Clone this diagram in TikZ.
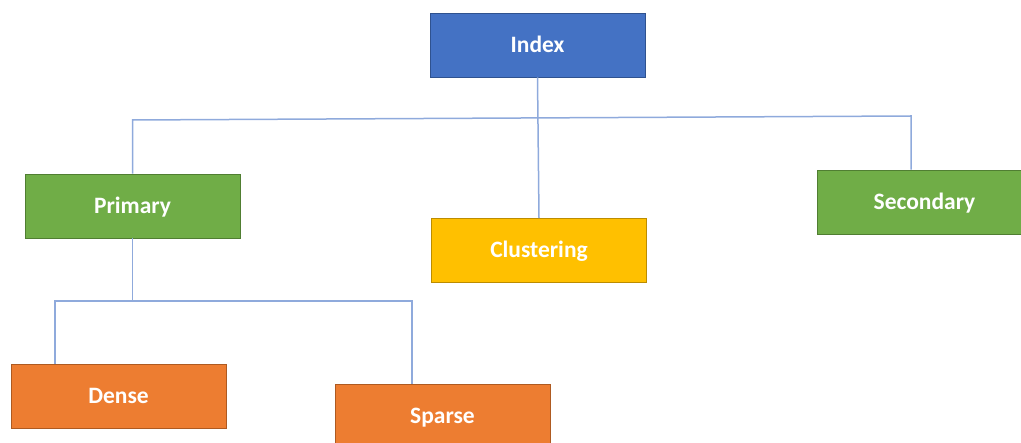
\documentclass[tikz,border=0pt]{standalone}
\usepackage{fontspec}
\setmainfont{Carlito}
\definecolor{cblue}{HTML}{4472C4}
\definecolor{cblueb}{HTML}{2F528F}
\definecolor{cgreen}{HTML}{70AD47}
\definecolor{cgreenb}{HTML}{507E32}
\definecolor{cyellow}{HTML}{FFC000}
\definecolor{cyellowb}{HTML}{BC8C00}
\definecolor{corange}{HTML}{ED7D31}
\definecolor{corangeb}{HTML}{AE5A21}
\definecolor{cline}{HTML}{8FAADC}
\tikzset{
  box/.style={rectangle, minimum width=215pt, minimum height=64pt, inner sep=0pt,
    text height=15pt, text depth=0pt,
    line width=0.8pt, text=white, font=\fontsize{23.5}{26}\selectfont\bfseries},
  bluebox/.style={box, fill=cblue, draw=cblueb},
  greenbox/.style={box, fill=cgreen, draw=cgreenb},
  yellowbox/.style={box, fill=cyellow, draw=cyellowb},
  orangebox/.style={box, fill=corange, draw=corangeb},
  conn/.style={draw=cline, line width=1.5pt}
}
\begin{document}
\begin{tikzpicture}[x=1pt,y=-1pt]
\useasboundingbox (0,0) rectangle (1021,443);
\node[bluebox] (index) at (537.5,45) {Index};
\node[greenbox] (primary) at (132.5,206) {Primary};
\node[yellowbox] (clustering) at (539,250.5) {Clustering};
\node[greenbox] (secondary) at (924.5,202) {Secondary};
\node[orangebox] (dense) at (118.5,396) {Dense};
\node[orangebox] (sparse) at (442.5,416) {Sparse};
\coordinate (jl) at (132.5,120);
\coordinate (jr) at (911,116);
\coordinate (jp) at (132.5,301);
\coordinate (jd) at (55,301);
\coordinate (js) at (412,301);
\draw[conn] (index.south) -- (clustering.north);
\draw[conn] (primary.north) -- (jl) -- (jr) -- (jr |- secondary.north);
\draw[conn] (primary.south) -- (jp);
\draw[conn] (jd |- dense.north) -- (jd) -- (js) -- (js |- sparse.north);
\end{tikzpicture}
\end{document}
